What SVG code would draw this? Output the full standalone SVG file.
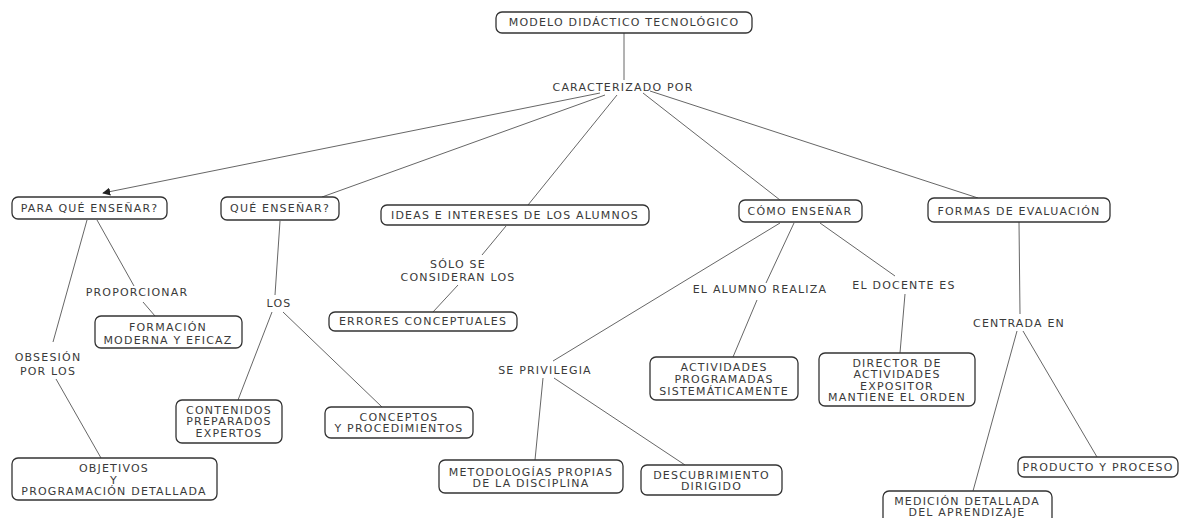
<svg xmlns="http://www.w3.org/2000/svg" width="1182" height="518" viewBox="0 0 1182 518">
<style>
.box{fill:#fff;stroke:#333;stroke-width:1.3}
.t{font-family:"DejaVu Sans",Verdana,sans-serif;font-size:11px;letter-spacing:1.2px;fill:#3a3a3a;text-anchor:middle}
.c{stroke:#555;stroke-width:0.9;fill:none}
</style>
<defs>
<marker id="ah" viewBox="0 0 10 10" refX="9" refY="5" markerWidth="8" markerHeight="8" orient="auto" markerUnits="userSpaceOnUse">
<path d="M0,0 L10,5 L0,10 z" fill="#222"/>
</marker>
</defs>
<rect width="1182" height="518" fill="#fff"/>
<g id="connectors">
<line class="c" x1="624" y1="33" x2="624" y2="80"/>
<line class="c" x1="600" y1="93" x2="103" y2="193" marker-end="url(#ah)"/>
<line class="c" x1="605" y1="95" x2="322" y2="197"/>
<line class="c" x1="617" y1="95" x2="528" y2="205"/>
<line class="c" x1="643" y1="93" x2="780" y2="200"/>
<line class="c" x1="650" y1="91" x2="978" y2="198"/>
<line class="c" x1="87" y1="220" x2="53" y2="342"/>
<line class="c" x1="56" y1="379" x2="101" y2="458"/>
<line class="c" x1="97" y1="220" x2="134" y2="286"/>
<line class="c" x1="143" y1="302" x2="155" y2="316"/>
<line class="c" x1="280" y1="221" x2="275" y2="295"/>
<line class="c" x1="272" y1="312" x2="238" y2="400"/>
<line class="c" x1="283" y1="312" x2="382" y2="407"/>
<line class="c" x1="506" y1="226" x2="482" y2="255"/>
<line class="c" x1="458" y1="285" x2="433" y2="312"/>
<line class="c" x1="780" y1="223" x2="553" y2="361"/>
<line class="c" x1="794" y1="223" x2="766" y2="283"/>
<line class="c" x1="757" y1="300" x2="733" y2="357"/>
<line class="c" x1="820" y1="223" x2="895" y2="276"/>
<line class="c" x1="905" y1="294" x2="900" y2="353"/>
<line class="c" x1="543" y1="378" x2="535" y2="460"/>
<line class="c" x1="554" y1="378" x2="685" y2="465"/>
<line class="c" x1="1019" y1="222" x2="1020" y2="314"/>
<line class="c" x1="1017" y1="331" x2="973" y2="491"/>
<line class="c" x1="1023" y1="331" x2="1097" y2="457"/>
</g>
<g id="labels">
<text class="t" x="623" y="91">CARACTERIZADO POR</text>
<text class="t" x="137" y="296">PROPORCIONAR</text>
<text class="t" x="48" y="361">OBSESIÓN</text>
<text class="t" x="48" y="375">POR LOS</text>
<text class="t" x="279" y="307">LOS</text>
<text class="t" x="458" y="268">SÓLO SE</text>
<text class="t" x="458" y="281">CONSIDERAN LOS</text>
<text class="t" x="545" y="374">SE PRIVILEGIA</text>
<text class="t" x="760" y="293">EL ALUMNO REALIZA</text>
<text class="t" x="904" y="289">EL DOCENTE ES</text>
<text class="t" x="1019" y="327">CENTRADA EN</text>
</g>
<g id="n-modelo"><rect class="box" x="496" y="12" width="256" height="21" rx="6"/><text class="t" x="624" y="26">MODELO DIDÁCTICO TECNOLÓGICO</text></g>
<g id="n-para"><rect class="box" x="12" y="197" width="155" height="22" rx="6"/><text class="t" x="89.5" y="212">PARA QUÉ ENSEÑAR?</text></g>
<g id="n-que"><rect class="box" x="221" y="197" width="118" height="23" rx="6"/><text class="t" x="280" y="212">QUÉ ENSEÑAR?</text></g>
<g id="n-ideas"><rect class="box" x="381" y="205" width="268" height="20" rx="6"/><text class="t" x="515" y="219">IDEAS E INTERESES DE LOS ALUMNOS</text></g>
<g id="n-como"><rect class="box" x="739" y="200" width="123" height="22" rx="6"/><text class="t" x="800" y="215">CÓMO ENSEÑAR</text></g>
<g id="n-formas"><rect class="box" x="928" y="198" width="182" height="24" rx="6"/><text class="t" x="1019" y="215">FORMAS DE EVALUACIÓN</text></g>
<g id="n-formacion"><rect class="box" x="95" y="316" width="147" height="32" rx="6"/><text class="t" x="168" y="331">FORMACIÓN</text><text class="t" x="168" y="344">MODERNA Y EFICAZ</text></g>
<g id="n-objetivos"><rect class="box" x="12" y="458" width="205" height="42" rx="6"/><text class="t" x="114" y="472">OBJETIVOS</text><text class="t" x="114" y="484">Y</text><text class="t" x="114" y="495">PROGRAMACIÓN DETALLADA</text></g>
<g id="n-contenidos"><rect class="box" x="176" y="400" width="106" height="43" rx="6"/><text class="t" x="229" y="414">CONTENIDOS</text><text class="t" x="229" y="425">PREPARADOS</text><text class="t" x="229" y="437">EXPERTOS</text></g>
<g id="n-conceptos"><rect class="box" x="325" y="407" width="148" height="31" rx="6"/><text class="t" x="399" y="421">CONCEPTOS</text><text class="t" x="399" y="432">Y PROCEDIMIENTOS</text></g>
<g id="n-errores"><rect class="box" x="329" y="312" width="188" height="19" rx="6"/><text class="t" x="423" y="325">ERRORES CONCEPTUALES</text></g>
<g id="n-actividades"><rect class="box" x="650" y="357" width="148" height="43" rx="6"/><text class="t" x="724" y="371">ACTIVIDADES</text><text class="t" x="724" y="383">PROGRAMADAS</text><text class="t" x="724" y="395">SISTEMÁTICAMENTE</text></g>
<g id="n-director"><rect class="box" x="819" y="353" width="156" height="53" rx="6"/><text class="t" x="897" y="367">DIRECTOR DE</text><text class="t" x="897" y="378">ACTIVIDADES</text><text class="t" x="897" y="390">EXPOSITOR</text><text class="t" x="897" y="401">MANTIENE EL ORDEN</text></g>
<g id="n-metodologias"><rect class="box" x="439" y="460" width="184" height="33" rx="6"/><text class="t" x="531" y="476">METODOLOGÍAS PROPIAS</text><text class="t" x="531" y="487">DE LA DISCIPLINA</text></g>
<g id="n-descubrimiento"><rect class="box" x="641" y="465" width="141" height="30" rx="6"/><text class="t" x="711.5" y="479">DESCUBRIMIENTO</text><text class="t" x="711.5" y="490">DIRIGIDO</text></g>
<g id="n-producto"><rect class="box" x="1018" y="457" width="160" height="20" rx="6"/><text class="t" x="1098" y="471">PRODUCTO Y PROCESO</text></g>
<g id="n-medicion"><rect class="box" x="883" y="491" width="169" height="40" rx="6"/><text class="t" x="967" y="505">MEDICIÓN DETALLADA</text><text class="t" x="967" y="516">DEL APRENDIZAJE</text></g>
</svg>
